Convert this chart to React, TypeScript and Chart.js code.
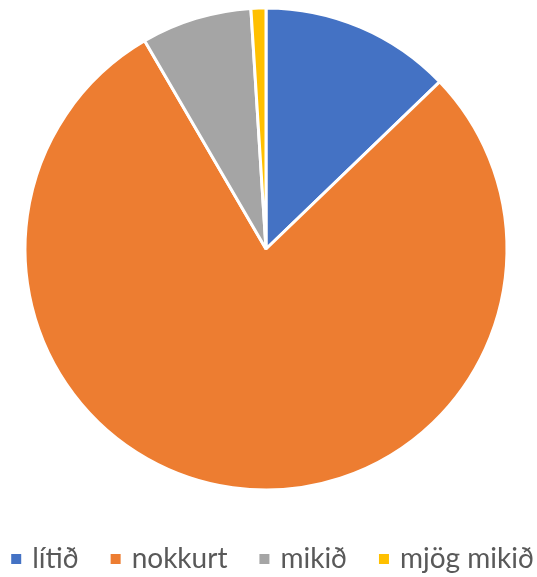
import React, { useEffect, useRef } from "react";
import { Chart, registerables } from "chart.js";

Chart.register(...registerables);

const categories = ["lítið", "nokkurt", "mikið", "mjög mikið"];
const values = [12.8, 78.8, 7.4, 1.0];
const colors = ["#4472C4", "#ED7D31", "#A5A5A5", "#FFC000"];

const legendFont = "28px Lato";
const legendColor = "#595959";
const boxSize = 10;
const boxTextGap = 11;
const itemGap = 32;
const legendCenterX = 272.5;
const legendCenterY = 559;

const bottomLegend = {
  id: "bottomLegend",
  afterDraw(chart: any) {
    const ctx = chart.ctx as CanvasRenderingContext2D;
    const labels = chart.data.labels as string[];
    const bg = chart.data.datasets[0].backgroundColor as string[];
    ctx.save();
    ctx.font = legendFont;
    const widths = labels.map((l) => ctx.measureText(l).width);
    const total =
      widths.reduce((a, w) => a + boxSize + boxTextGap + w, 0) + itemGap * (labels.length - 1);
    let x = legendCenterX - total / 2;
    ctx.textBaseline = "middle";
    ctx.textAlign = "left";
    labels.forEach((l, i) => {
      ctx.fillStyle = bg[i];
      ctx.fillRect(x, legendCenterY - boxSize / 2, boxSize, boxSize);
      x += boxSize + boxTextGap;
      ctx.fillStyle = legendColor;
      ctx.fillText(l, x, legendCenterY);
      x += widths[i] + itemGap;
    });
    ctx.restore();
  },
};

export default function App() {
  const ref = useRef<HTMLCanvasElement | null>(null);
  useEffect(() => {
    if (!ref.current) return;
    const chart = new Chart(ref.current, {
      type: "pie",
      data: {
        labels: categories,
        datasets: [
          {
            data: values,
            backgroundColor: colors,
            borderColor: "#FFFFFF",
            borderWidth: 3,
            radius: 241,
          },
        ],
      },
      options: {
        animation: false,
        responsive: false,
        maintainAspectRatio: false,
        layout: { padding: { top: 0, bottom: 79, left: 0, right: 5 } },
        plugins: {
          tooltip: { enabled: false },
          legend: { display: false },
        },
      },
      plugins: [bottomLegend],
    });
    return () => chart.destroy();
  }, []);
  return (
    <div style={{ position: "absolute", left: 0, top: 0, width: 537, height: 577, background: "#fff" }}>
      <canvas ref={ref} width={537} height={577} />
    </div>
  );
}
